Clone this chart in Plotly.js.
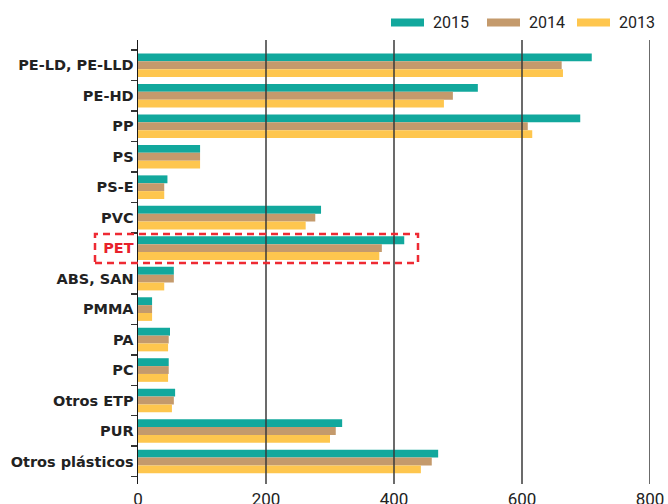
<!DOCTYPE html>
<html>
<head>
<meta charset="utf-8">
<script src="https://cdn.plot.ly/plotly-3.0.1.min.js"></script>
<style>
  html, body { margin: 0; padding: 0; background: #fff; }
  #chart { width: 668px; height: 504px; }
</style>
</head>
<body>
<div id="chart"></div>
<script>
// plastic demand by type, three years
const categories = ['PE-LD, PE-LLD', 'PE-HD', 'PP', 'PS', 'PS-E', 'PVC', 'PET',
    'ABS, SAN', 'PMMA', 'PA', 'PC', 'Otros ETP', 'PUR', 'Otros plásticos'];
const years = ['2015', '2014', '2013'];
const v2015 = [709, 531, 691, 97, 46, 286, 416, 56, 22, 50, 48, 58, 319, 469];
const v2014 = [662, 492, 609, 97, 41, 277, 381, 56, 22, 48, 48, 56, 309, 459];
const v2013 = [664, 478, 616, 97, 41, 262, 377, 41, 22, 47, 47, 53, 300, 442];
const xTicks = [0, 200, 400, 600, 800];
const highlight = 'PET';

const colors = ['#12a89d', '#c49a6c', '#fec64e'];
const seriesValues = [v2015, v2014, v2013];

// plot area in pixels, used to place the non-data decorations
const L = 138, R = 18, T = 40, B = 20, W = 668, H = 504;
const plotW = W - L - R, plotH = H - T - B;
const px = x => (x - L) / plotW;
const py = y => (H - B - y) / plotH;

const tickText = categories.map(c =>
    c === highlight ? '<span style="color:#e8212b">' + c + '</span>' : c);

const traces = years.map((yr, i) => ({
    type: 'bar',
    orientation: 'h',
    name: yr,
    y: categories,
    x: seriesValues[i],
    marker: { color: colors[i], line: { width: 0 } },
    hoverinfo: 'x+y+name'
}));

const shapes = [];
// grid lines sit on top of the bars
xTicks.slice(1).forEach(t => {
    shapes.push({
        type: 'line', layer: 'above', xref: 'x', yref: 'paper',
        x0: t, x1: t, y0: 0, y1: 1,
        line: { color: '#3a3a3a', width: 1.5 }
    });
});
// dashed box around the highlighted category
shapes.push({
    type: 'rect', layer: 'above', xref: 'paper', yref: 'paper',
    x0: px(95), x1: px(418), y0: py(263), y1: py(234),
    line: { color: '#ee2a33', width: 2.5, dash: '7px,5px' },
    fillcolor: 'rgba(0,0,0,0)'
});

// hand-made legend: wide flat swatches
const annotations = [];
const legendX = [391, 487, 577];
years.forEach((yr, i) => {
    shapes.push({
        type: 'rect', xref: 'paper', yref: 'paper',
        x0: px(legendX[i]), x1: px(legendX[i] + 33),
        y0: py(26.5), y1: py(18.5),
        line: { width: 0 }, fillcolor: colors[i]
    });
    annotations.push({
        xref: 'paper', yref: 'paper', x: px(legendX[i] + 40), y: py(22.5),
        xanchor: 'left', yanchor: 'middle', showarrow: false,
        text: yr, font: { family: 'Roboto, sans-serif', size: 16, color: '#222' }
    });
});

const layout = {
    width: W,
    height: H,
    margin: { l: L, r: R, t: T, b: B },
    paper_bgcolor: '#fff',
    plot_bgcolor: '#fff',
    barmode: 'group',
    bargap: 0.225,
    bargroupgap: 0,
    showlegend: false,
    xaxis: {
        range: [0, 800],
        tickvals: xTicks,
        showgrid: false,
        zeroline: false,
        showline: false,
        ticks: '',
        ticklabelstandoff: 3,
        tickfont: { family: 'Roboto, sans-serif', size: 17, color: '#222' },
        fixedrange: true
    },
    yaxis: {
        type: 'category',
        range: [13.74, -0.83],
        tickvals: categories,
        ticktext: tickText,
        tickson: 'boundaries',
        ticks: 'outside',
        ticklen: 6,
        tickwidth: 1.5,
        tickcolor: '#333',
        showline: true,
        linecolor: '#1a1a1a',
        linewidth: 1.5,
        layer: 'above traces',
        showgrid: false,
        zeroline: false,
        tickfont: { family: 'DejaVu Sans, sans-serif', size: 14.5, color: '#222', weight: 'bold' },
        fixedrange: true
    },
    shapes,
    annotations
};

Plotly.newPlot('chart', traces, layout, { displayModeBar: false, staticPlot: true });
</script>
</body>
</html>
